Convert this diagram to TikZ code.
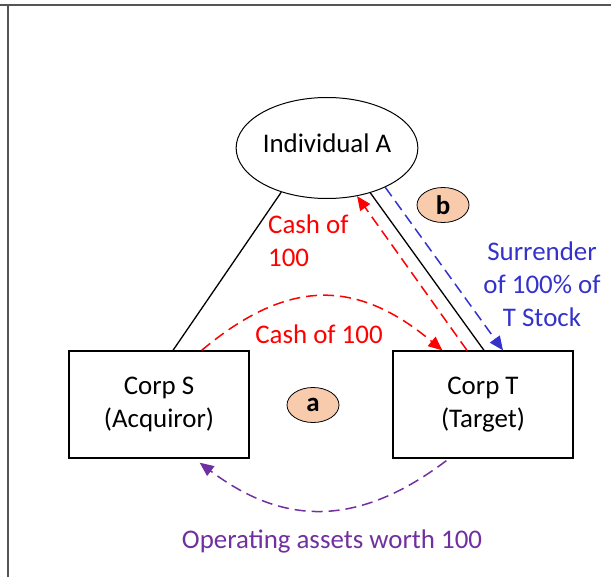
\documentclass[tikz,border=0pt]{standalone}
\usepackage{fontspec}
\setmainfont{Carlito}
\usetikzlibrary{arrows.meta,calc,shapes.geometric}
\definecolor{cashred}{HTML}{FF0000}
\definecolor{stockblue}{HTML}{3333CC}
\definecolor{assetpurple}{HTML}{7030A0}
\definecolor{badgepeach}{HTML}{F8CBAD}
\definecolor{framegray}{HTML}{555555}

\begin{document}
\begin{tikzpicture}[x = 1bp, y = -1bp,
        every node/.style = {font = \fontsize{27}{33}\selectfont, inner sep = 0},
        corp/.style = {draw, line width = 1.3bp, minimum width = 180bp, minimum height = 107bp, align = center},
        badge/.style = {draw, ellipse, line width = 0.8bp, fill = badgepeach, minimum width = 52bp, minimum height = 35bp, font = \fontsize{27}{33}\selectfont\bfseries},
        flow/.style = {line width = 1.5bp, dash pattern = on 11bp off 6bp, -{Triangle[length = 14bp, width = 12bp]}}]
    \useasboundingbox (0,0) rectangle (611,577);
    % frame
    \draw[framegray, line width = 1.5bp] (0,5) -- (611,5);
    \draw[framegray, line width = 1.5bp] (8,5) -- (8,577);
    % parties
    \node[draw, ellipse, line width = 1bp, minimum width = 181bp, minimum height = 101bp, text height = 15bp, text depth = 5bp] (indA) at (327,148) {Individual A};
    \node[corp] (corpS) at (159,404.5) {Corp S\\(Acquiror)};
    \node[corp] (corpT) at (483,404.5) {Corp T\\(Target)};
    \draw[line width = 1.3bp] (indA.224) -- ($(corpS.north)+(14,0)$);
    \draw[line width = 1.3bp] (indA.314) -- ($(corpT.north)+(1,0)$);
    % step a
    \node[badge] (badgeA) at (313,405) {a};
    \draw[flow, cashred] ($(corpS.north east)+(-48,0)$) .. controls +(86,-72) and +(-86,-72) .. ($(corpT.north west)+(50,0)$);
    \node[cashred, anchor = base] (cashS) at (319,343) {Cash of 100};
    \draw[flow, assetpurple] ($(corpT.south west)+(54,2)$) .. controls +(-86,65) and +(86,65) .. ($(corpS.south east)+(-50,4)$);
    \node[assetpurple, anchor = base] (assets) at (332,548) {Operating assets worth 100};
    % step b
    \node[badge] (badgeB) at (443,205) {b};
    \draw[flow, cashred] ($(corpT.north)+(-16,0)$) -- (indA.302);
    \node[cashred, align = left, anchor = west] (cashA) at (268,241) {Cash of\\100};
    \draw[flow, stockblue] (indA.326) -- ($(corpT.north)+(20,0)$);
    \node[stockblue, align = center] (surrender) at (542,284) {Surrender\\of 100\% of\\T Stock};
\end{tikzpicture}
\end{document}
